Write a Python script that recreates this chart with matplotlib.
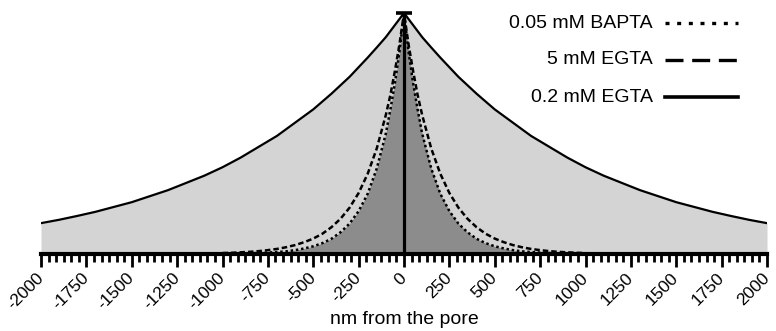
import matplotlib
matplotlib.use("Agg")
import matplotlib.pyplot as plt
from matplotlib.ticker import MultipleLocator, AutoMinorLocator
from matplotlib.lines import Line2D
import numpy as np

plt.rcParams["font.family"] = ["Liberation Sans", "DejaVu Sans"]

# distance from the pore (nm), one side; profile is symmetric about 0
DIST_WIDE = [0, 50, 100, 150, 200, 300, 400, 500, 600, 700, 800, 900, 1000,
             1100, 1200, 1300, 1400, 1500, 1600, 1700, 1800, 1900, 2000]
EGTA_02 = [1.00, 0.95, 0.90, 0.857, 0.815, 0.735, 0.665, 0.60, 0.545, 0.49, 0.445, 0.40, 0.36,
           0.325, 0.295, 0.265, 0.24, 0.215, 0.195, 0.175, 0.158, 0.142, 0.128]

DIST_NARROW = [0, 25, 50, 75, 100, 150, 200, 250, 300, 350, 400, 450, 500,
               550, 600, 650, 700, 750, 800, 850, 900, 950, 1000]
EGTA_5 = [1.00, 0.87, 0.76, 0.66, 0.577, 0.438, 0.333, 0.253, 0.192, 0.146, 0.111, 0.084, 0.064,
          0.049, 0.037, 0.028, 0.021, 0.016, 0.012, 0.009, 0.007, 0.005, 0.004]
BAPTA_005 = [1.00, 0.84, 0.71, 0.60, 0.50, 0.355, 0.25, 0.178, 0.126, 0.09, 0.063, 0.045, 0.032,
             0.023, 0.016, 0.011, 0.008, 0.006, 0.004, 0.003, 0.002, 0.0015, 0.001]

XTICKS = list(range(-2000, 2001, 250))
LEGEND_LABELS = ["0.05 mM BAPTA", "5 mM EGTA", "0.2 mM EGTA"]

LIGHT = "#d4d4d4"
DARK = "#8c8c8c"


def mirror(d, v):
    d = np.asarray(d, dtype=float)
    v = np.asarray(v, dtype=float)
    x = np.concatenate([-d[::-1], d[1:]])
    y = np.concatenate([v[::-1], v[1:]])
    return x, y


W, H = 776, 331
fig = plt.figure(figsize=(W / 100, H / 100), dpi=100)
ax = fig.add_axes([41 / W, 1 - 254 / H, 726 / W, 241 / H])

xs, ys = mirror(DIST_WIDE, EGTA_02)
x5, y5 = mirror(DIST_NARROW, EGTA_5)
xb, yb = mirror(DIST_NARROW, BAPTA_005)

ax.fill_between(xs, 0, ys, color=LIGHT, lw=0)
ax.fill_between(xb, 0, yb, color=DARK, lw=0)
ax.plot(xs, ys, color="black", lw=1.6, solid_joinstyle="round")
ax.plot(x5, y5, color="black", lw=1.8, linestyle=(0, (2.2, 1.2)))
ax.plot(xb, yb, color="black", lw=1.8, linestyle=(0, (1, 1.1)))

peak = EGTA_02[0]
ax.vlines(0, 0, peak, color="black", lw=2.3)
ax.plot([0], [peak], marker="_", ms=11, mew=2.6, color="black", clip_on=False)

ax.set_xlim(-2000, 2000)
ax.set_ylim(0, 1)
for s in ("left", "right", "top"):
    ax.spines[s].set_visible(False)
ax.spines["bottom"].set_linewidth(3)
ax.set_yticks([])
ax.xaxis.set_major_locator(MultipleLocator(250))
ax.xaxis.set_minor_locator(AutoMinorLocator(6))
ax.set_xticks(XTICKS)
ax.set_xticklabels([str(t) for t in XTICKS], rotation=45, ha="right", va="center",
                   rotation_mode="anchor", fontsize=12.5)
ax.tick_params(axis="x", which="major", length=9, width=2.0, pad=6.5)
ax.tick_params(axis="x", which="minor", length=5.5, width=2.0)
ax.set_xlabel("nm from the pore", fontsize=14)
ax.xaxis.set_label_coords(0.5, -0.237)

# legend drawn by hand: text right-aligned, sample to the right
styles = [dict(lw=2.4, linestyle=(0, (1.2, 2.3))),
          dict(lw=2.4, linestyle=(0, (5.4, 2.6))),
          dict(lw=2.6, linestyle="-")]
for i, (lab, st) in enumerate(zip(LEGEND_LABELS, styles)):
    yc = 1 - (23 + 37 * i) / H
    fig.text(653 / W, yc, lab, ha="right", va="center", fontsize=14)
    fig.add_artist(Line2D([665 / W, 738 / W], [yc, yc], color="black",
                          transform=fig.transFigure, **st))

fig.savefig("out.png", dpi=100)
